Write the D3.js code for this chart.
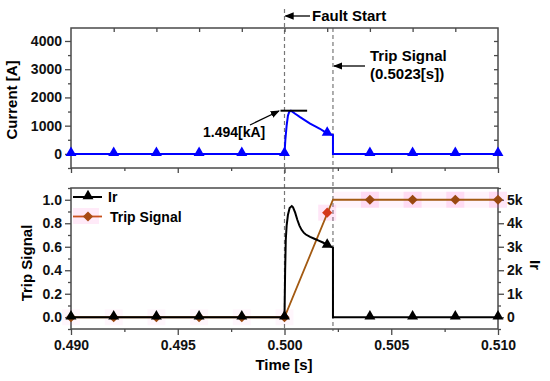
<!DOCTYPE html>
<html><head><meta charset="utf-8">
<script src="https://cdn.jsdelivr.net/npm/d3@7"></script>
<style>
body{margin:0;background:#fff;}
svg{font-family:"Liberation Sans",Arial,sans-serif;font-weight:bold;}
</style></head><body>
<svg id="c" width="550" height="381"></svg>
<script>
// ---- data ----
const markerTimes = [0.490,0.492,0.494,0.496,0.498,0.500,0.502,0.504,0.506,0.508,0.510];
const currentMarkers = [0,0,0,0,0,0,720,0,0,0,0];
const currentT = [0.490,0.500,0.50004,0.50010,0.50016,0.50022,0.50030,0.50050,0.50073,0.50100,0.50120,0.50140,0.50166,0.50185,0.50200,0.50227,0.50227,0.510];
const currentV = [0,0,500,1000,1350,1490,1530,1420,1300,1170,1070,990,890,800,730,670,0,0];
const irT = [0.490,0.500,0.50003,0.50006,0.50010,0.50016,0.50024,0.50034,0.50040,0.50050,0.50060,0.50070,0.50080,0.50090,0.50100,0.50120,0.50140,0.50160,0.50180,0.50200,0.50227,0.50227,0.510];
const irV = [0,0,2000,3300,3900,4350,4650,4730,4680,4450,4150,3900,3720,3600,3520,3420,3340,3260,3180,3080,2960,0,0];
const irMarkers = [0,0,0,0,0,0,3050,0,0,0,0];
const tripT = [0.490,0.500,0.50227,0.510];
const tripV = [0,0,1,1];
const tripMarkers = [0,0,0,0,0,0,0.89,1,1,1,1];
const xTicks = [0.490,0.495,0.500,0.505,0.510];
const currentTicks = [0,1000,2000,3000,4000];
const tripTicks = [0.0,0.2,0.4,0.6,0.8,1.0];
const irTicks = [0,1000,2000,3000,4000,5000];
const irTickLabels = ["0","1k","2k","3k","4k","5k"];
const faultTime = 0.500, tripTime = 0.50227, peakValue = 1530;

// ---- layout ----
const svg = d3.select("#c");
const L = 71, R = 498;
const T1 = 28, B1 = 168, T2 = 188, B2 = 329;
const frameCol = "#4a4a4a";
const x = d3.scaleLinear([0.49, 0.51], [L, R]);
const yCur = d3.scaleLinear([-500, 4460], [B1, T1]);
const yTrip = d3.scaleLinear([-0.1, 1.1], [B2, T2]);
const yIr = d3.scaleLinear([-500, 5500], [B2, T2]);

function styleAxis(g, fs){
  g.selectAll("path").remove();
  g.selectAll("line").attr("stroke", frameCol).attr("stroke-width", 1.3);
  g.selectAll("text").attr("font-size", fs).attr("font-weight","bold").attr("fill","#111")
   .attr("font-family",'"Liberation Sans",Arial,sans-serif');
}
function minor(lo, hi, step){ const a=[]; for(let v=lo; v<=hi+1e-9; v+=step) a.push(+v.toFixed(6)); return a; }

// ---- dashed lines ----
svg.append("line").attr("x1",x(faultTime)).attr("x2",x(faultTime)).attr("y1",9).attr("y2",B2)
  .attr("stroke","#777").attr("stroke-width",1.2).attr("stroke-dasharray","4,3");
svg.append("line").attr("x1",x(tripTime)).attr("x2",x(tripTime)).attr("y1",T1).attr("y2",B2+2)
  .attr("stroke","#777").attr("stroke-width",1.2).attr("stroke-dasharray","4,3");

// ---- top panel axes ----
let g;
g = svg.append("g").attr("transform",`translate(${L},0)`).call(d3.axisLeft(yCur).tickValues(currentTicks).tickSize(6).tickPadding(3).tickFormat(d3.format("d")));
styleAxis(g,14);
g = svg.append("g").attr("transform",`translate(${L},0)`).call(d3.axisLeft(yCur).tickValues(minor(-500,4000,1000)).tickSize(3).tickFormat(""));
styleAxis(g,14);
g = svg.append("g").attr("transform",`translate(0,${B1})`).call(d3.axisBottom(x).tickValues(xTicks).tickSize(5).tickFormat(""));
styleAxis(g,14);
g = svg.append("g").attr("transform",`translate(0,${B1})`).call(d3.axisBottom(x).tickValues(minor(0.4925,0.5075,0.005)).tickSize(3).tickFormat(""));
styleAxis(g,14);
g = svg.append("g").attr("transform",`translate(0,${T1})`).call(d3.axisBottom(x).tickValues(minor(0.492,0.508,0.002)).tickSize(4).tickFormat(""));
styleAxis(g,14);
g = svg.append("g").attr("transform",`translate(${R},0)`).call(d3.axisLeft(yCur).tickValues(minor(500,4000,500)).tickSize(4).tickFormat(""));
styleAxis(g,14);
svg.append("rect").attr("x",L).attr("y",T1).attr("width",R-L).attr("height",B1-T1)
  .attr("fill","none").attr("stroke",frameCol).attr("stroke-width",1.5);

// ---- top panel data ----
const lineCur = d3.line().x((d,i)=>x(currentT[i])).y((d,i)=>yCur(currentV[i]));
svg.append("path").datum(currentV).attr("d",lineCur).attr("fill","none").attr("stroke","#0000ff").attr("stroke-width",2);
const tri = d3.symbol().type(d3.symbolTriangle).size(52);
svg.append("g").selectAll("path").data(markerTimes).join("path").attr("d",tri)
  .attr("transform",(d,i)=>`translate(${x(d)},${yCur(currentMarkers[i])-1})`).attr("fill","#0000ff");

// peak line & annotation
svg.append("line").attr("x1",x(0.50000)-4).attr("x2",x(0.50106)).attr("y1",yCur(peakValue)).attr("y2",yCur(peakValue))
  .attr("stroke","#000").attr("stroke-width",2);
const defs = svg.append("defs");
defs.append("marker").attr("id","ah").attr("viewBox","0 0 10 10").attr("refX",9).attr("refY",5)
  .attr("markerWidth",7).attr("markerHeight",7).attr("orient","auto")
  .append("path").attr("d","M0,1 L10,5 L0,9 z").attr("fill","#000");
svg.append("line").attr("x1",250).attr("y1",125).attr("x2",279).attr("y2",111)
  .attr("stroke","#000").attr("stroke-width",1.3).attr("marker-end","url(#ah)");
svg.append("text").attr("x",203).attr("y",137).attr("font-size",14).text("1.494[kA]");

// Fault start annotation
svg.append("line").attr("x1",310).attr("y1",16).attr("x2",x(faultTime)+1).attr("y2",16)
  .attr("stroke","#000").attr("stroke-width",1.3).attr("marker-end","url(#ah)");
svg.append("text").attr("x",312).attr("y",21).attr("font-size",15).text("Fault Start");
// Trip annotation
svg.append("line").attr("x1",365).attr("y1",66).attr("x2",x(tripTime)+1).attr("y2",66)
  .attr("stroke","#000").attr("stroke-width",1.3).attr("marker-end","url(#ah)");
svg.append("text").attr("x",370).attr("y",61).attr("font-size",15).text("Trip Signal");
svg.append("text").attr("x",370).attr("y",79).attr("font-size",15).text("(0.5023[s])");

// ---- lower panel axes ----
g = svg.append("g").attr("transform",`translate(${L},0)`).call(d3.axisLeft(yTrip).tickValues(tripTicks).tickSize(6).tickPadding(3).tickFormat(d3.format(".1f")));
styleAxis(g,14);
g = svg.append("g").attr("transform",`translate(${L},0)`).call(d3.axisLeft(yTrip).tickValues(minor(-0.1,1.1,0.2)).tickSize(3).tickFormat(""));
styleAxis(g,14);
g = svg.append("g").attr("transform",`translate(${R},0)`).call(d3.axisRight(yIr).tickValues(irTicks).tickSize(6).tickPadding(3).tickFormat((d,i)=>irTickLabels[i]));
styleAxis(g,14);
g = svg.append("g").attr("transform",`translate(${R},0)`).call(d3.axisRight(yIr).tickValues(minor(-500,5500,1000)).tickSize(3).tickFormat(""));
styleAxis(g,14);
g = svg.append("g").attr("transform",`translate(0,${B2})`).call(d3.axisBottom(x).tickValues(xTicks).tickSize(6).tickPadding(5).tickFormat(d3.format(".3f")));
styleAxis(g,14);
g = svg.append("g").attr("transform",`translate(0,${B2})`).call(d3.axisBottom(x).tickValues(minor(0.4925,0.5075,0.005)).tickSize(3).tickFormat(""));
styleAxis(g,14);
svg.append("rect").attr("x",L).attr("y",T2).attr("width",R-L).attr("height",B2-T2)
  .attr("fill","none").attr("stroke",frameCol).attr("stroke-width",1.5);

// ---- lower panel data ----
const pink = "#ff4fc8";
// pink halos (rendering artefact around trip markers)
svg.append("rect").attr("x",x(tripTime)).attr("y",yTrip(1)-8).attr("width",R-x(tripTime)).attr("height",16)
  .attr("fill",pink).attr("opacity",0.07);
svg.append("g").selectAll("rect").data(markerTimes).join("rect")
  .attr("x",d=>x(d)-9).attr("y",(d,i)=>yTrip(tripMarkers[i])-8).attr("width",18).attr("height",16)
  .attr("fill",pink).attr("opacity",(d,i)=>tripMarkers[i]>0?0.14:0.05);

const lineTrip = d3.line().x((d,i)=>x(tripT[i])).y((d,i)=>yTrip(tripV[i]));
svg.append("path").datum(tripV).attr("d",lineTrip).attr("fill","none").attr("stroke","#a35a12").attr("stroke-width",1.8);
const dia = d3.symbol().type(d3.symbolSquare).size(52);
svg.append("g").selectAll("path").data(markerTimes).join("path").attr("d",dia)
  .attr("transform",(d,i)=>`translate(${x(d)},${yTrip(tripMarkers[i])}) rotate(45)`)
  .attr("fill",(d,i)=>(tripMarkers[i]>0&&tripMarkers[i]<1)?"#d4391c":"#9a4810");

const lineIr = d3.line().x((d,i)=>x(irT[i])).y((d,i)=>yIr(irV[i]));
svg.append("path").datum(irV).attr("d",lineIr).attr("fill","none").attr("stroke","#000").attr("stroke-width",2);
svg.append("g").selectAll("path").data(markerTimes).join("path").attr("d",tri)
  .attr("transform",(d,i)=>`translate(${x(d)},${yIr(irMarkers[i])-1})`).attr("fill","#000");

// legend
const lg = svg.append("g");
lg.append("line").attr("x1",73).attr("x2",102).attr("y1",197).attr("y2",197).attr("stroke","#000").attr("stroke-width",2);
lg.append("path").attr("d",tri).attr("transform","translate(88,196)").attr("fill","#000");
lg.append("text").attr("x",108).attr("y",202).attr("font-size",14).text("Ir");
lg.append("rect").attr("x",73).attr("y",208).attr("width",26).attr("height",16).attr("fill",pink).attr("opacity",0.12);
lg.append("line").attr("x1",73).attr("x2",102).attr("y1",216.5).attr("y2",216.5).attr("stroke","#c8501c").attr("stroke-width",1.8);
lg.append("path").attr("d",dia).attr("transform","translate(88,216.5) rotate(45)").attr("fill","#a84c14");
lg.append("text").attr("x",110).attr("y",221.5).attr("font-size",14).text("Trip Signal");

// axis titles
svg.append("text").attr("transform","translate(17,100) rotate(-90)").attr("text-anchor","middle").attr("font-size",15).text("Current [A]");
svg.append("text").attr("transform","translate(32,263) rotate(-90)").attr("text-anchor","middle").attr("font-size",15).text("Trip Signal");
svg.append("text").attr("transform","translate(530,265) rotate(90)").attr("text-anchor","middle").attr("font-size",15).text("Ir");
svg.append("text").attr("x",284).attr("y",370).attr("text-anchor","middle").attr("font-size",15).text("Time [s]");
</script>
</body></html>
